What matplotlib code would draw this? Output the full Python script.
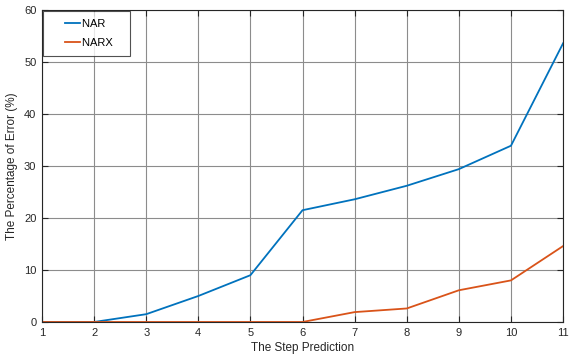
import matplotlib
matplotlib.use("Agg")
import numpy as np
import matplotlib.pyplot as plt
from matplotlib.lines import Line2D
from matplotlib.legend_handler import HandlerLine2D

plt.rcParams['font.family'] = ['Liberation Sans Narrow', 'Liberation Sans', 'DejaVu Sans']

steps = [1, 2, 3, 4, 5, 6, 7, 8, 9, 10, 11]
nar = [0, 0, 1.5, 5.0, 9.0, 21.5, 23.6, 26.2, 29.4, 33.9, 53.6]
narx = [0, 0, 0, 0, 0, 0, 1.9, 2.6, 6.1, 8.0, 14.6]


class ShortLine(HandlerLine2D):
    # legend line only in the right half of the handle box
    def create_artists(self, legend, orig_handle, xdescent, ydescent,
                       width, height, fontsize, trans):
        arts = super().create_artists(legend, orig_handle, xdescent, ydescent,
                                      width, height, fontsize, trans)
        for a in arts:
            xd = np.asarray(a.get_xdata(), float)
            if len(xd) >= 2:
                x0 = xd[0] + 0.5 * (xd[-1] - xd[0])
                a.set_xdata(np.linspace(x0, xd[-1], len(xd)))
        return arts


fig = plt.figure(figsize=(5.79, 3.58), dpi=100)
ax = fig.add_axes([0.0725, 0.1006, 0.9, 0.8714])

ax.plot(steps, nar, color="#0072BD", lw=1.3, label="NAR")
ax.plot(steps, narx, color="#D95319", lw=1.3, label="NARX")

ax.set_xlim(1, 11)
ax.set_ylim(0, 60)
ax.set_xticks(steps)
ax.set_yticks([0, 10, 20, 30, 40, 50, 60])
ax.grid(True, color="#8c8c8c", lw=0.8)
ax.tick_params(direction="in", top=True, right=True, labelsize=8, length=4,
               colors="#262626", pad=4)
for s in ax.spines.values():
    s.set_color("#262626")
    s.set_linewidth(0.8)

ax.set_xlabel("The Step Prediction", fontsize=8.5, color="#262626", labelpad=3)
ax.set_ylabel("The Percentage of Error (%)", fontsize=8.5, color="#262626", labelpad=4)

handles, labels = ax.get_legend_handles_labels()
labels = [l + "   " for l in labels]
leg = ax.legend(handles, labels, loc="upper left", fontsize=8, frameon=True,
                fancybox=False, edgecolor="#262626", borderaxespad=0.05,
                handlelength=2.6, borderpad=0.75, labelspacing=0.8,
                handletextpad=0.2, handler_map={Line2D: ShortLine()})
leg.get_frame().set_linewidth(0.8)

fig.savefig("out.png", dpi=100)
